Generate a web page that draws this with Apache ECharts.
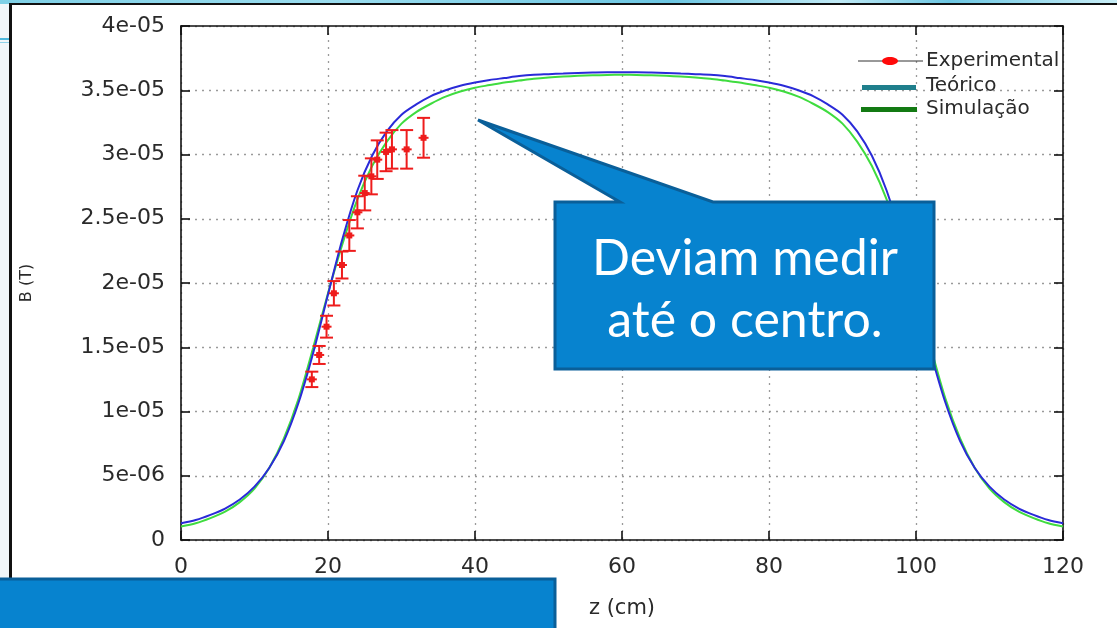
<!DOCTYPE html>
<html>
<head>
<meta charset="utf-8">
<script src="https://cdn.jsdelivr.net/npm/echarts@6/dist/echarts.min.js"></script>
<style>
  html, body { margin: 0; padding: 0; width: 1117px; height: 628px; overflow: hidden; background: #f1f6f9; }
  #topband { position: absolute; left: 0; top: 0; width: 1117px; height: 4px;
    background: linear-gradient(90deg, #7fd0e6 0%, #9adcee 30%, #6cc6e2 60%, #bfe9f5 75%, #6cc6e2 85%, #c9eef7 100%); }
  #line1 { position: absolute; left: 0; top: 38px; width: 12px; height: 2px; background: #4fb8dc; }
  #line2 { position: absolute; left: 0; top: 42px; width: 12px; height: 1px; background: #8fd3ea; }
  #paper { position: absolute; left: 9px; top: 3px; width: 1120px; height: 640px; background: #ffffff;
    border-top: 2px solid #111; border-left: 3px solid #111; }
  #chart { position: absolute; left: 0; top: 0; width: 1117px; height: 628px; }
</style>
</head>
<body>
<div id="topband"></div>
<div id="line1"></div>
<div id="line2"></div>
<div id="paper"></div>
<div id="chart"></div>
<script>
// ---- data (B in units of 1e-6 T, z in cm) ----
const zCurve = [0,2,4,6,8,10,12,14,16,18,20,22,24,26,28,30,32,34,36,38,40,42,44,46,48,50,52,54,56,58,60,
                62,64,66,68,70,72,74,76,78,80,82,84,86,88,90,92,94,96,98,100,102,104,106,108,110,112,114,116,118,120];
const bTeorico = [1.3,1.55,1.95,2.45,3.15,4.15,5.6,7.7,10.7,14.6,19.1,23.5,27.2,29.9,31.8,33.1,33.9,34.55,35.0,35.35,35.6,35.8,35.95,36.1,36.2,36.25,36.3,36.35,36.38,36.4,36.4,
                  36.4,36.38,36.35,36.3,36.25,36.2,36.1,35.95,35.8,35.6,35.35,35.0,34.55,33.9,33.1,31.8,29.9,27.2,23.5,19.1,14.6,10.7,7.7,5.6,4.15,3.15,2.45,1.95,1.55,1.3];
const bSimulacao = [1.05,1.3,1.7,2.2,2.95,4.0,5.6,7.9,11.0,15.0,19.2,23.1,26.5,29.1,31.0,32.4,33.3,33.95,34.5,34.9,35.2,35.4,35.6,35.75,35.9,36.0,36.07,36.12,36.16,36.19,36.2,
                    36.19,36.16,36.12,36.07,36.0,35.9,35.75,35.6,35.4,35.2,34.9,34.5,33.95,33.3,32.4,31.0,29.1,26.5,23.1,19.2,15.0,11.0,7.9,5.6,4.0,2.95,2.2,1.7,1.3,1.05];
const expZ = [17.8,18.8,19.8,20.8,21.9,22.9,24.0,25.0,25.9,26.7,27.9,28.7,30.7,33.0];
const expB = [12.5,14.4,16.6,19.2,21.4,23.7,25.5,27.0,28.3,29.6,30.2,30.4,30.4,31.3];
const expErr = [0.6,0.7,0.85,0.95,1.05,1.2,1.25,1.35,1.4,1.5,1.5,1.5,1.5,1.55];
const xTickLabels = ['0','20','40','60','80','100','120'];
const yTickLabels = ['0','5e-06','1e-05','1.5e-05','2e-05','2.5e-05','3e-05','3.5e-05','4e-05'];
const legendNames = ['Experimental','Teórico','Simulação'];
const calloutLines = ['Deviam medir','até o centro.'];

const teoData = zCurve.map((z, i) => [z, bTeorico[i]]);
const simData = zCurve.map((z, i) => [z, bSimulacao[i]]);
const expData = expZ.map((z, i) => [z, expB[i], expErr[i]]);

const AX = '#111';
const TXT = '#2a2a2a';
const FONT = 'DejaVu Sans';

function xAxisCfg(pos) {
  const bottom = pos === 'bottom';
  return {
    type: 'value', min: 0, max: 120, interval: 20, position: pos,
    axisLine: { show: true, onZero: false, lineStyle: { color: AX, width: 1.6 } },
    axisTick: { show: true, inside: true, length: 9, lineStyle: { color: AX, width: 1.6 } },
    axisLabel: { show: bottom, color: TXT, fontSize: 22, fontFamily: FONT, margin: 16,
      formatter: v => xTickLabels[Math.round(v / 20)] },
    splitLine: { show: bottom, lineStyle: { color: '#9a9a9a', type: [2, 5], width: 1.3 } },
    name: bottom ? 'z (cm)' : '', nameLocation: 'middle', nameGap: 58,
    nameTextStyle: { color: TXT, fontSize: 21, fontFamily: FONT }
  };
}
function yAxisCfg(pos) {
  const left = pos === 'left';
  return {
    type: 'value', min: 0, max: 40, interval: 5, position: pos,
    axisLine: { show: true, onZero: false, lineStyle: { color: AX, width: 1.6 } },
    axisTick: { show: true, inside: true, length: 9, lineStyle: { color: AX, width: 1.6 } },
    axisLabel: { show: left, color: TXT, fontSize: 22, fontFamily: FONT, margin: 16,
      formatter: v => yTickLabels[Math.round(v / 5)] },
    splitLine: { show: left, lineStyle: { color: '#9a9a9a', type: [2, 5], width: 1.3 } },
    name: left ? 'B (T)' : '', nameLocation: 'middle', nameGap: 146, nameRotate: 90,
    nameTextStyle: { color: TXT, fontSize: 16, fontFamily: FONT }
  };
}

const chart = echarts.init(document.getElementById('chart'), null, { renderer: 'canvas' });

const legX = 861, legTextX = 926;
const legY = [61, 86, 109];

const option = {
  backgroundColor: 'transparent',
  animation: false,
  grid: { left: 181, right: 54, top: 26, bottom: 88, outerBoundsMode: 'none', containLabel: false },
  xAxis: [xAxisCfg('bottom'), xAxisCfg('top')],
  yAxis: [yAxisCfg('left'), yAxisCfg('right')],
  legend: { show: false, data: legendNames },
  series: [
    {
      name: legendNames[2], type: 'line', data: simData, smooth: 0.3, showSymbol: false,
      lineStyle: { color: '#3fdc3f', width: 2 }, itemStyle: { color: '#137a13' }, z: 3
    },
    {
      name: legendNames[1], type: 'line', data: teoData, smooth: 0.3, showSymbol: false,
      lineStyle: { color: '#2a2ad8', width: 2 }, itemStyle: { color: '#1f7f8c' }, z: 4
    },
    {
      name: legendNames[0], type: 'custom', data: expData, z: 5,
      renderItem: function (params, api) {
        const z = api.value(0), b = api.value(1), e = api.value(2);
        const c = api.coord([z, b]);
        const top = api.coord([z, b + e]);
        const bot = api.coord([z, b - e]);
        const cap = 6.5, hw = 5;
        const st = { stroke: '#ee1c1c', lineWidth: 2, fill: null };
        return {
          type: 'group',
          children: [
            { type: 'line', shape: { x1: c[0], y1: top[1], x2: c[0], y2: bot[1] }, style: st },
            { type: 'line', shape: { x1: c[0] - cap, y1: top[1], x2: c[0] + cap, y2: top[1] }, style: st },
            { type: 'line', shape: { x1: c[0] - cap, y1: bot[1], x2: c[0] + cap, y2: bot[1] }, style: st },
            { type: 'line', shape: { x1: c[0] - hw, y1: c[1], x2: c[0] + hw, y2: c[1] }, style: st },
            { type: 'rect', shape: { x: c[0] - 3, y: c[1] - 3, width: 6, height: 6 }, style: { fill: '#ee1c1c' } }
          ]
        };
      }
    }
  ],
  graphic: [
    // legend
    { type: 'line', z: 50, shape: { x1: legX - 3, y1: legY[0], x2: legX + 62, y2: legY[0] }, style: { stroke: '#333', lineWidth: 1 } },
    { type: 'ellipse', z: 51, shape: { cx: legX + 29, cy: legY[0], rx: 8, ry: 4 }, style: { fill: '#ff0a0a' } },
    { type: 'text', z: 51, style: { x: legTextX, y: legY[0], text: legendNames[0], font: '20px "DejaVu Sans"', fill: TXT, verticalAlign: 'middle', align: 'left' } },
    { type: 'rect', z: 50, shape: { x: legX + 1, y: legY[1] - 1, width: 54, height: 5 }, style: { fill: '#1f7f8c' } },
    { type: 'text', z: 51, style: { x: legTextX, y: legY[1], text: legendNames[1], font: '20px "DejaVu Sans"', fill: TXT, verticalAlign: 'middle', align: 'left' } },
    { type: 'rect', z: 50, shape: { x: legX, y: legY[2] - 2, width: 56, height: 5 }, style: { fill: '#137a13' } },
    { type: 'text', z: 51, style: { x: legTextX, y: legY[2], text: legendNames[2], font: '20px "DejaVu Sans"', fill: TXT, verticalAlign: 'middle', align: 'left' } },
    // callout
    { type: 'polygon', z: 100,
      shape: { points: [[555, 202], [620, 202], [478, 120], [713, 202], [934, 202], [934, 369], [555, 369]] },
      style: { fill: '#0783cf', stroke: '#0a5f99', lineWidth: 3, lineJoin: 'miter' } },
    { type: 'text', z: 101, style: { x: 745, y: 259, text: calloutLines[0], font: '50px Lato', fill: '#ffffff', align: 'center', verticalAlign: 'middle' } },
    { type: 'text', z: 101, style: { x: 745, y: 321, text: calloutLines[1], font: '50px Lato', fill: '#ffffff', align: 'center', verticalAlign: 'middle' } },
    // bottom box
    { type: 'rect', z: 100, shape: { x: -3, y: 579, width: 558, height: 60 },
      style: { fill: '#0783cf', stroke: '#0a5f99', lineWidth: 3 } }
  ]
};
chart.setOption(option);
</script>
</body>
</html>
